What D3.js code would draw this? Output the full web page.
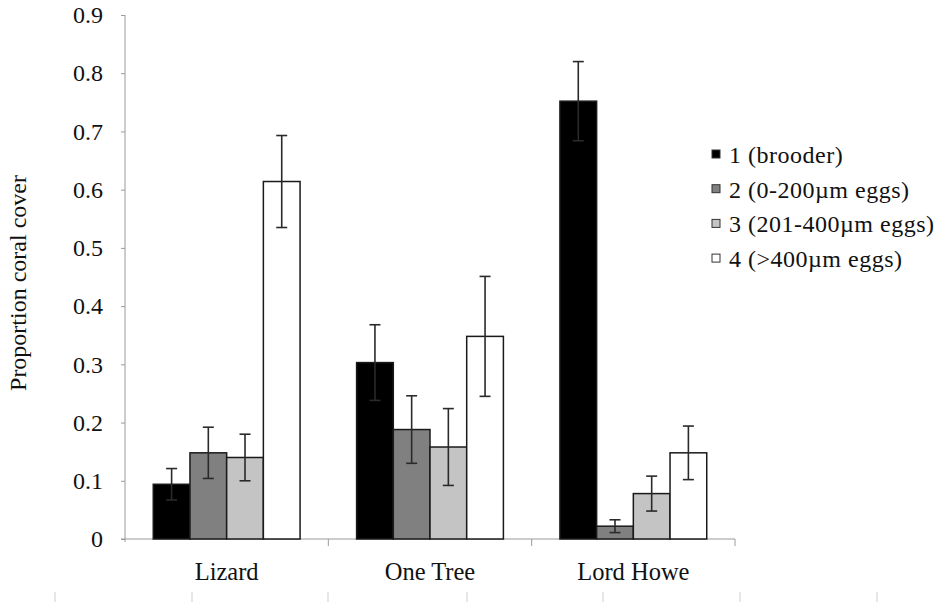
<!DOCTYPE html>
<html>
<head>
<meta charset="utf-8">
<script src="https://cdn.jsdelivr.net/npm/d3@7"></script>
<style>
  html, body { margin: 0; padding: 0; background: #fff; }
  svg { display: block; }
</style>
</head>
<body>
<svg id="chart" width="944" height="602"></svg>
<script>
// Proportion of coral cover by egg-size group at three reef sites
const sites = ["Lizard", "One Tree", "Lord Howe"];
const groups = ["1 (brooder)", "2 (0-200\u00b5m eggs)", "3 (201-400\u00b5m eggs)", "4 (>400\u00b5m eggs)"];
const groupColors = ["#000000", "#808080", "#c4c4c4", "#ffffff"];
// mean cover per site, one array per group
const brooder   = [0.094, 0.303, 0.752];
const small     = [0.148, 0.188, 0.022];
const medium    = [0.140, 0.158, 0.078];
const large     = [0.614, 0.348, 0.148];
// standard errors, same layout
const brooderSE = [0.027, 0.065, 0.068];
const smallSE   = [0.044, 0.058, 0.011];
const mediumSE  = [0.040, 0.066, 0.030];
const largeSE   = [0.079, 0.103, 0.046];
const yTicks = [0, 0.1, 0.2, 0.3, 0.4, 0.5, 0.6, 0.7, 0.8, 0.9];

const FONT = "'Liberation Serif', 'Times New Roman', serif";
const means = [brooder, small, medium, large];
const errors = [brooderSE, smallSE, mediumSE, largeSE];

const rows = [];
sites.forEach((site, si) => {
  groups.forEach((g, gi) => {
    rows.push({ site, group: g, gi, value: means[gi][si], se: errors[gi][si] });
  });
});

const svg = d3.select("#chart");

const x0 = d3.scaleBand().domain(sites).range([125, 735]).paddingInner(0).paddingOuter(0);
const x1 = d3.scaleBand().domain(groups).range([0, x0.bandwidth()]).paddingInner(0).paddingOuter(0.77);
const y = d3.scaleLinear().domain([0, 0.9]).range([539, 15]);

const axisColor = "#9a9a9a";

// y axis
const yAxis = svg.append("g").attr("transform", "translate(125,0)")
  .call(d3.axisLeft(y).tickValues(yTicks).tickSize(4).tickPadding(18)
    .tickFormat(d => d === 0 ? "0" : d3.format(".1f")(d)));
yAxis.attr("font-family", FONT).attr("font-size", 24);
yAxis.select(".domain").attr("stroke", axisColor).attr("d", "M0,15V542");
yAxis.selectAll(".tick line").attr("stroke", axisColor);
yAxis.selectAll(".tick text").attr("fill", "#111");

// x axis baseline with boundary ticks between sites
const xAxisG = svg.append("g");
xAxisG.append("line").attr("x1", 121).attr("x2", x0.range()[1]).attr("y1", y(0)).attr("y2", y(0))
  .attr("stroke", axisColor);
const bounds = sites.map(s => x0(s)).concat([x0.range()[1]]).slice(1);
xAxisG.selectAll(".bt").data(bounds).join("line")
  .attr("x1", d => d).attr("x2", d => d).attr("y1", y(0)).attr("y2", y(0) + 7)
  .attr("stroke", axisColor);

// bars
const barG = svg.append("g");
barG.selectAll("rect").data(rows).join("rect")
  .attr("x", d => x0(d.site) + x1(d.group))
  .attr("y", d => y(d.value))
  .attr("width", x1.bandwidth())
  .attr("height", d => y(0) - y(d.value))
  .attr("fill", d => groupColors[d.gi])
  .attr("stroke", "#1a1a1a")
  .attr("stroke-width", 1.5);

// error bars
const errG = svg.append("g").attr("stroke", "#2a2a2a").attr("stroke-width", 1.6);
rows.forEach(d => {
  const cx = x0(d.site) + x1(d.group) + x1.bandwidth() / 2;
  const yt = y(d.value + d.se), yb = y(d.value - d.se);
  errG.append("line").attr("x1", cx).attr("x2", cx).attr("y1", yt).attr("y2", yb);
  errG.append("line").attr("x1", cx - 5.5).attr("x2", cx + 5.5).attr("y1", yt).attr("y2", yt);
  errG.append("line").attr("x1", cx - 5.5).attr("x2", cx + 5.5).attr("y1", yb).attr("y2", yb);
});

// site labels
svg.append("g").selectAll("text").data(sites).join("text")
  .attr("x", d => x0(d) + x0.bandwidth() / 2)
  .attr("y", 580)
  .attr("text-anchor", "middle")
  .attr("fill", "#111")
  .attr("font-family", FONT)
  .attr("font-size", 24.5)
  .text(d => d);

// y axis title
svg.append("text")
  .attr("transform", "translate(26,283) rotate(-90)")
  .attr("text-anchor", "middle")
  .attr("fill", "#111")
  .attr("font-family", FONT)
  .attr("font-size", 24)
  .text("Proportion coral cover");

// legend
const legend = svg.append("g");
const lg = legend.selectAll("g").data(groups).join("g")
  .attr("transform", (d, i) => `translate(712,${155 + i * 34.7})`);
lg.append("rect").attr("x", 0).attr("y", -5).attr("width", 8).attr("height", 8)
  .attr("fill", (d, i) => groupColors[i]).attr("stroke", "#333").attr("stroke-width", 1);
lg.append("text").attr("x", 17).attr("y", 8)
  .attr("fill", "#111")
  .attr("font-family", FONT)
  .attr("font-size", 24)
  .attr("letter-spacing", 0.5)
  .text(d => d);

// faint ruler marks along the bottom edge
const marks = [55, 192, 328, 467, 603, 740, 877];
svg.append("g").selectAll("line").data(marks).join("line")
  .attr("x1", d => d).attr("x2", d => d).attr("y1", 592).attr("y2", 602)
  .attr("stroke", "#cfcfcf");
</script>
</body>
</html>
